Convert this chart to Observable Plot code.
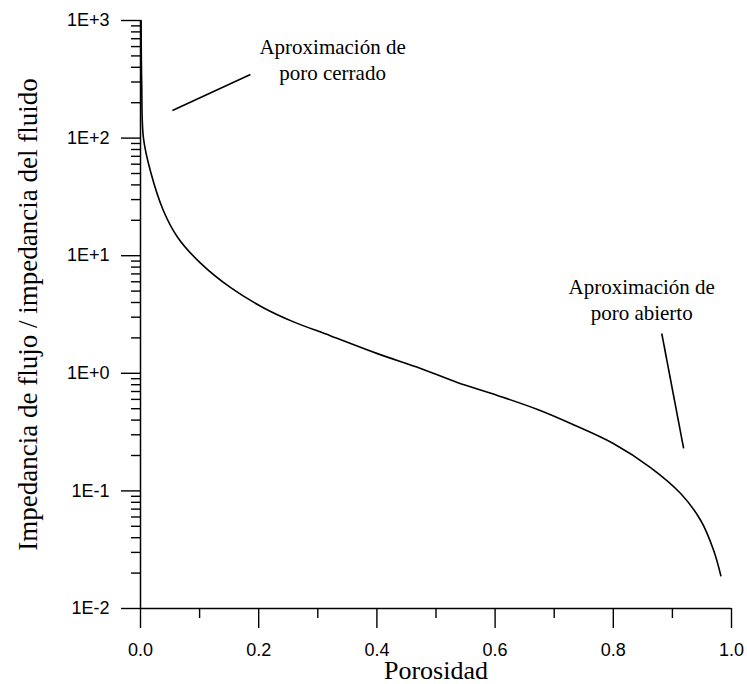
<!DOCTYPE html>
<html>
<head>
<meta charset="utf-8">
<script src="https://cdn.jsdelivr.net/npm/d3@7"></script>
<script src="https://cdn.jsdelivr.net/npm/@observablehq/plot@0.6"></script>
<style>
  html, body { margin: 0; padding: 0; background: #fff; }
  svg { display: block; }
</style>
</head>
<body>
<div id="chart"></div>
<script>
// Porosity vs. normalised flow impedance (log scale)
const porosity = [0.001, 0.002, 0.005, 0.017, 0.039, 0.063, 0.102, 0.152, 0.207, 0.258,
  0.321, 0.401, 0.474, 0.536, 0.604, 0.672, 0.728, 0.800, 0.863, 0.914, 0.948, 0.970, 0.982];
const impedance = [1000, 300, 100, 52, 24, 14.3, 8.6, 5.37, 3.63, 2.75,
  2.09, 1.47, 1.10, 0.836, 0.648, 0.492, 0.374, 0.253, 0.158, 0.095, 0.056, 0.031, 0.019];

// Axis ticks
const xMajor = [0, 0.2, 0.4, 0.6, 0.8, 1.0];
const xMinor = [0.1, 0.3, 0.5, 0.7, 0.9];
const yMajor = [0.01, 0.1, 1, 10, 100, 1000];
const yMajorLabels = ["1E-2", "1E-1", "1E+0", "1E+1", "1E+2", "1E+3"];
const yMinor = [];
for (const d of yMajor.slice(0, -1)) for (let k = 2; k <= 9; k++) yMinor.push(+(d * k).toPrecision(3));

// Annotations and their leader lines
const noteText = ["Aproximación de\nporo cerrado", "Aproximación de\nporo abierto"];
const noteX = [0.325, 0.848];
const noteY = [472, 4.30];
const leaderX1 = [0.054, 0.882];
const leaderY1 = [172, 2.18];
const leaderX2 = [0.186, 0.919];
const leaderY2 = [348, 0.230];

const curve = porosity.map((p, i) => ({p, z: impedance[i]}));
const notes = noteText.map((t, i) => ({t, x: noteX[i], y: noteY[i]}));
const leaders = leaderX1.map((x1, i) => ({x1, y1: leaderY1[i], x2: leaderX2[i], y2: leaderY2[i]}));

const serif = "'Liberation Serif', 'Times New Roman', serif";
const sans = "'Liberation Sans', Arial, sans-serif";

const chart = Plot.plot({
  width: 747,
  height: 684,
  marginLeft: 140,
  marginRight: 16,
  marginTop: 20,
  marginBottom: 76,
  style: {fontFamily: sans, color: "#000", background: "#fff"},
  x: {domain: [0, 1]},
  y: {type: "log", domain: [0.01, 1000]},
  marks: [
    // minor ticks, then major ticks with labels
    Plot.axisX({ticks: xMinor, tickSize: 10, tickFormat: () => "", strokeWidth: 1.4}),
    Plot.axisX({ticks: xMajor, tickSize: 20, tickPadding: 15, fontSize: 18,
      tickFormat: d3.format(".1f"), strokeWidth: 1.4}),
    Plot.axisY({ticks: yMinor, tickSize: 9, tickFormat: () => "", strokeWidth: 1.4}),
    Plot.axisY({ticks: yMajor, tickSize: 19, tickPadding: 12, fontSize: 18,
      tickFormat: (d) => yMajorLabels[yMajor.indexOf(d)], strokeWidth: 1.4}),
    // axis lines
    Plot.ruleX([0], {y1: 0.01, y2: 1000, strokeWidth: 1.5}),
    Plot.ruleY([0.01], {x1: 0, x2: 1, strokeWidth: 1.5}),
    // axis titles
    Plot.text(["Porosidad"], {frameAnchor: "bottom", lineAnchor: "middle", dy: 62,
      fontSize: 26, fontFamily: serif}),
    Plot.text(["Impedancia de flujo / impedancia del fluido"], {frameAnchor: "left", textAnchor: "middle",
      lineAnchor: "middle", dx: -112, rotate: -90, fontSize: 27, fontFamily: serif}),
    // curve
    Plot.line(curve, {x: "p", y: "z", curve: "catmull-rom", stroke: "#000", strokeWidth: 1.6}),
    // annotations
    Plot.link(leaders, {x1: "x1", y1: "y1", x2: "x2", y2: "y2", stroke: "#000", strokeWidth: 1.6}),
    Plot.text(notes, {x: "x", y: "y", text: "t", lineAnchor: "middle", lineHeight: 1.22,
      fontSize: 21, fontFamily: serif})
  ]
});
document.getElementById("chart").append(chart);
</script>
</body>
</html>
